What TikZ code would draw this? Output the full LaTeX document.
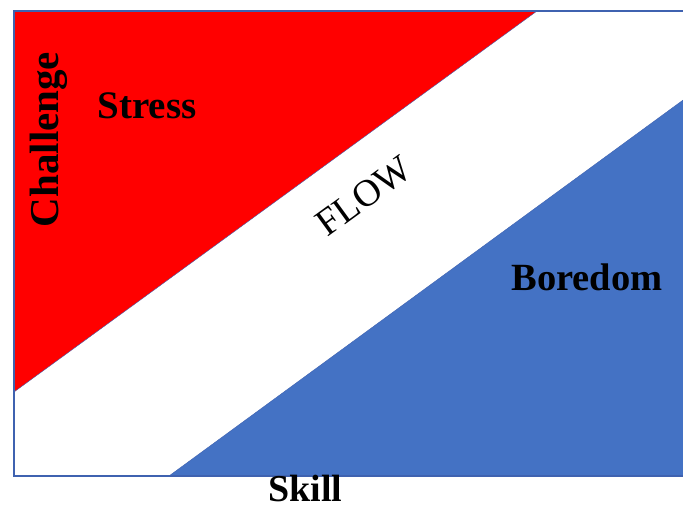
\documentclass[tikz,border=0pt]{standalone}
\usepackage{fontspec}
\setmainfont{Liberation Serif}
\definecolor{stressred}{HTML}{FF0000}
\definecolor{boreblue}{HTML}{4472C4}
\definecolor{framecol}{HTML}{3F62B0}
\tikzset{
  zone/.style={draw=framecol, line width=0.4pt},
  lbl/.style={font=\bfseries\fontsize{39}{39}\selectfont, inner sep=0pt, text=black},
}
\begin{document}
\begin{tikzpicture}[x=1pt,y=1pt]
\useasboundingbox (0,0) rectangle (683,504);
% zones
\fill[stressred, zone] (14,493) -- (537,493) -- (14,112) -- cycle;
\fill[boreblue, zone] (169,28) -- (690,28) -- (690,409) -- cycle;
% frame
\draw[framecol, line width=1.5pt] (14,28) rectangle (690,493);
% labels
\node[lbl, font=\bfseries\fontsize{41}{41}\selectfont, rotate=90, anchor=base] (challenge) at (58,364.5) {Challenge};
\node[lbl, anchor=base] (stress) at (147,385) {Stress};
\node[lbl, font=\fontsize{38}{38}\selectfont, rotate=36] (flow) at (364,308) {FLOW};
\node[lbl, font=\bfseries\fontsize{38.5}{38.5}\selectfont, anchor=base] (boredom) at (587,213) {Boredom};
\node[lbl, font=\bfseries\fontsize{38}{38}\selectfont, anchor=base] (skill) at (305.5,2.5) {Skill};
\end{tikzpicture}
\end{document}
